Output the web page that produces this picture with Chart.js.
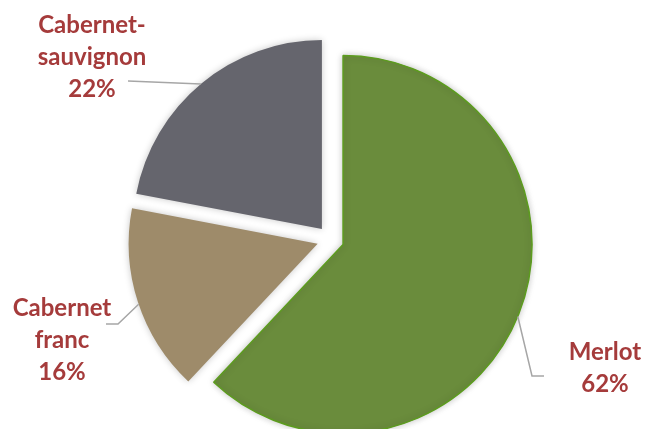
<!DOCTYPE html>
<html>
<head>
<meta charset="utf-8">
<script src="https://cdn.jsdelivr.net/npm/chart.js@4.4.1/dist/chart.umd.min.js"></script>
<style>
  html, body { margin: 0; padding: 0; background: #fff; }
  #wrap { width: 647px; height: 429px; position: relative; }
</style>
</head>
<body>
<div id="wrap"><canvas id="pie"></canvas></div>
<script>
// data
const cepages = ['Merlot', 'Cabernet franc', 'Cabernet-sauvignon'];
const parts = [62, 16, 22];
const sliceColors = ['#6a8c3c', '#9e8b6a', '#65656d'];

const EXPLODE = 13.5;   // px each slice is pulled out
const RADIUS = 189;

// where each label sits + leader line (angle in degrees on the slice edge)
const labelLayout = [
    { angle: 22.4,  elbow: [532, 376], end: [544, 376], x: 605, y: 360 },
    { angle: 161.3, elbow: [118, 324], end: [106, 324], x: 62,  y: 316 },
    { angle: 230.2, elbow: null,       end: [128, 81],  x: 92,  y: 33 }
];

const total = parts.reduce((a, b) => a + b, 0);

function splitName(name) {
    return name.replace('-', '-\n').split(/[ \n]/);
}

// chart.js "offset" also grows the big slice, so pull the arcs out by hand instead
const explodePlugin = {
    id: 'explode',
    afterDatasetsUpdate(chart) {
        chart.getDatasetMeta(0).data.forEach(arc => {
            const half = (arc.startAngle + arc.endAngle) / 2;
            arc.x += Math.cos(half) * EXPLODE;
            arc.y += Math.sin(half) * EXPLODE;
        });
    }
};

const shadowPlugin = {
    id: 'softShadow',
    beforeDatasetsDraw(chart) {
        const ctx = chart.ctx;
        ctx.save();
        ctx.shadowColor = 'rgba(0,0,0,0.22)';
        ctx.shadowBlur = 7;
        ctx.shadowOffsetX = 0;
        ctx.shadowOffsetY = 0;
    },
    afterDatasetsDraw(chart) {
        chart.ctx.restore();
    }
};

const labelPlugin = {
    id: 'outsideLabels',
    afterDraw(chart) {
        const ctx = chart.ctx;
        const meta = chart.getDatasetMeta(0);
        meta.data.forEach((arc, i) => {
            const lay = labelLayout[i];
            const a = lay.angle * Math.PI / 180;

            // leader line
            ctx.save();
            ctx.strokeStyle = '#a6a6a6';
            ctx.lineWidth = 1.5;
            ctx.beginPath();
            ctx.moveTo(arc.x + Math.cos(a) * arc.outerRadius, arc.y + Math.sin(a) * arc.outerRadius);
            if (lay.elbow) ctx.lineTo(lay.elbow[0], lay.elbow[1]);
            ctx.lineTo(lay.end[0], lay.end[1]);
            ctx.stroke();

            // text
            const pct = Math.round(parts[i] / total * 100) + '%';
            const lines = splitName(cepages[i]).concat([pct]);
            ctx.fillStyle = '#a53b3b';
            ctx.font = 'bold 24px Lato';
            ctx.textAlign = 'center';
            ctx.textBaseline = 'alphabetic';
            lines.forEach((t, k) => ctx.fillText(t, lay.x, lay.y + k * 32));
            ctx.restore();
        });
    }
};

new Chart(document.getElementById('pie'), {
    type: 'pie',
    data: {
        labels: cepages,
        datasets: [{
            data: parts,
            backgroundColor: sliceColors,
            borderColor: ['#5c9c1e', 'rgba(0,0,0,0)', 'rgba(0,0,0,0)'],
            borderWidth: [1.5, 0, 0],
            clip: false
        }]
    },
    options: {
        responsive: true,
        maintainAspectRatio: false,
        animation: false,
        radius: RADIUS,
        layout: { padding: { left: 14, right: 0, top: 50, bottom: 0 } },
        plugins: {
            legend: { display: false },
            tooltip: { enabled: false }
        }
    },
    plugins: [explodePlugin, shadowPlugin, labelPlugin]
});
</script>
</body>
</html>
